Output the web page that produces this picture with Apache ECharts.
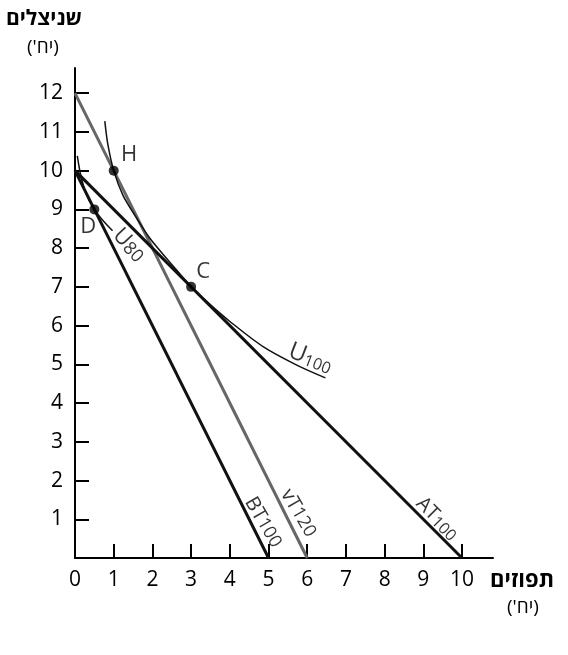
<!DOCTYPE html>
<html>
<head>
<meta charset="utf-8">
<script src="https://cdn.jsdelivr.net/npm/echarts@6/dist/echarts.min.js"></script>
<style>html,body{margin:0;padding:0;background:#fff}#c{width:568px;height:655px}</style>
</head>
<body>
<div id="c"></div>
<script>
var xTickLabels = ['0','1','2','3','4','5','6','7','8','9','10'];
var yTickLabels = ['1','2','3','4','5','6','7','8','9','10','11','12'];
var lineAT100 = [[0,10],[10,0]];
var lineBT100 = [[0,10],[5,0]];
var lineVT120 = [[0,12],[6,0]];
var curveU100 = [[0.77,11.28],[0.85,10.67],[1.0,10.0],[1.24,9.36],[1.55,8.84],[1.9,8.3],[2.24,7.88],[2.62,7.44],[3.0,7.0],[3.45,6.58],[4.01,6.1],[4.87,5.45],[5.73,4.98],[6.47,4.65]];
var curveU80 = [[0.06,10.38],[0.14,9.92],[0.28,9.42],[0.5,9.0],[0.75,8.68],[0.97,8.45]];
var pointNames = ['H','C','D'];
var pointValues = [[1,10],[3,7],[0.5,9]];
var pointLabelPos = [[1.4,10.42],[3.31,7.38],[0.34,8.55]];
var lineLabels = [
  {text:'{u|U}{v|80}', pos:[1.40,8.08], rot:-47},
  {text:'{b|U}{s|100}', pos:[6.08,5.16], rot:-21},
  {text:'{a|AT}{s|100}', pos:[9.36,1.02], rot:-45},
  {text:'{a|vT}{t|120}', pos:[5.77,1.16], rot:-60},
  {text:'{a|BT}{t|100}', pos:[4.86,0.92], rot:-60}
];
var yTitle = ['שניצלים', "(יח')"];
var xTitle = ['תפוזים', "(יח')"];
var FONT = '"Open Sans","DejaVu Sans",sans-serif';
function rtl(s){ return '\u202B' + s + '\u202C'; }

var chart = echarts.init(document.getElementById('c'), null, {renderer:'canvas'});
var xIdx = xTickLabels.map(function(v){return Number(v);});
var yIdx = yTickLabels.map(function(v){return Number(v);});

function lineSeries(data, color, width){
  return {type:'line', data:data, symbol:'none', lineStyle:{color:color, width:width}, silent:true, z:3, animation:false};
}

chart.setOption({
  animation:false,
  grid:{left:75, top:68, width:418, height:490, containLabel:false},
  xAxis:{
    type:'value', min:0, max:10.8, interval:1,
    splitLine:{show:false},
    axisLine:{show:true, onZero:false, lineStyle:{color:'#000', width:2}},
    axisTick:{show:true, inside:true, length:14, customValues:xIdx.slice(1), lineStyle:{color:'#000', width:2}},
    axisLabel:{customValues:xIdx, formatter:function(v){return String(v);}, color:'#000', fontSize:21, fontFamily:FONT, margin:12}
  },
  yAxis:{
    type:'value', min:0, max:12.65, interval:1,
    splitLine:{show:false},
    axisLine:{show:true, onZero:false, lineStyle:{color:'#000', width:2}},
    axisTick:{show:true, inside:true, length:14, customValues:yIdx, lineStyle:{color:'#000', width:2}},
    axisLabel:{customValues:yIdx, formatter:function(v){return String(v);}, color:'#000', fontSize:21, fontFamily:FONT, margin:12}
  },
  series:[
    lineSeries(lineVT120, '#666666', 3),
    lineSeries(lineAT100, '#111111', 3),
    lineSeries(lineBT100, '#111111', 3),
    Object.assign(lineSeries(curveU100, '#111111', 1.5), {smooth:0.3}),
    Object.assign(lineSeries(curveU80, '#111111', 1.5), {smooth:0.3}),
    {type:'scatter', data:pointValues, symbol:'circle', symbolSize:10, itemStyle:{color:'#000'}, z:5, silent:true},
    {type:'scatter', data:pointLabelPos.map(function(p,i){return {value:p, name:pointNames[i]};}), symbolSize:0, z:6, silent:true,
      label:{show:true, position:'inside', formatter:'{b}', color:'#000', fontSize:22, fontFamily:FONT}},
    {type:'scatter', data:lineLabels.map(function(l){return {value:l.pos, name:l.text, label:{rotate:l.rot}};}), symbolSize:0, z:6, silent:true,
      label:{show:true, position:'inside', formatter:'{b}', color:'#000', fontFamily:FONT,
        rich:{
          a:{fontSize:20, fontFamily:FONT, color:'#000'},
          u:{fontSize:22, fontFamily:FONT, color:'#000'},
          v:{fontSize:18, fontFamily:FONT, color:'#000', verticalAlign:'bottom', padding:[5,0,0,0]},
          b:{fontSize:24, fontFamily:FONT, color:'#000'},
          s:{fontSize:16, fontFamily:FONT, color:'#000', verticalAlign:'bottom', padding:[6,0,0,0]},
          t:{fontSize:18, fontFamily:FONT, color:'#000'}
        }}}
  ],
  graphic:[
    {type:'text', left:6, top:9, style:{text:yTitle[0], font:'bold 21px '+FONT, fill:'#000'}},
    {type:'text', left:27, top:38, style:{text:rtl(yTitle[1]), font:'19px '+FONT, fill:'#000'}},
    {type:'text', left:490, top:570, style:{text:xTitle[0], font:'bold 22px '+FONT, fill:'#000'}},
    {type:'text', left:507, top:598, style:{text:rtl(xTitle[1]), font:'19px '+FONT, fill:'#000'}}
  ]
});
</script>
</body>
</html>
